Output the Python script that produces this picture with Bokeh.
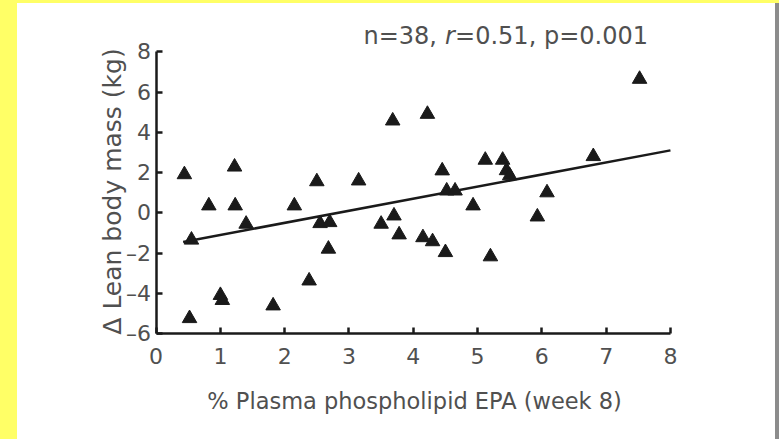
import math
from bokeh.plotting import figure
from bokeh.models import Label, Div, FixedTicker
from bokeh.layouts import row, column
from bokeh.embed import file_html
from bokeh.resources import INLINE

# Data
epa = [0.44, 0.55, 0.52, 0.82, 1.0, 1.03, 1.22, 1.23, 1.4, 1.82,
       2.15, 2.38, 2.5, 2.55, 2.7, 2.68, 3.15, 3.5, 3.68, 3.7,
       3.78, 4.22, 4.15, 4.3, 4.5, 4.45, 4.52, 4.65, 4.93, 5.12,
       5.39, 5.45, 5.5, 5.2, 6.08, 5.93, 6.8, 7.52]
lbm = [1.9, -1.35, -5.25, 0.35, -4.1, -4.35, 2.28, 0.35, -0.56, -4.62,
       0.35, -3.38, 1.55, -0.53, -0.48, -1.8, 1.59, -0.56, 4.57, -0.15,
       -1.09, 4.9, -1.23, -1.43, -1.97, 2.09, 1.09, 1.09, 0.35, 2.62,
       2.62, 2.1, 1.85, -2.18, 1.0, -0.2, 2.8, 6.64]
fit_x = [0.42, 8.0]
fit_y = [-1.45, 3.1]
x_ticks = [0, 1, 2, 3, 4, 5, 6, 7, 8]
y_ticks = [-6, -4, -2, 0, 2, 4, 6, 8]
y_tick_labels = ["\u20136", "\u20134", "\u20132", "0", "2", "4", "6", "8"]
x_title = "% Plasma phospholipid EPA (week 8)"
y_title = "\u0394 Lean body mass (kg)"
stat_n = "n=38,"
stat_r = "r"
stat_rest = "=0.51, p=0.001"

FONT = "DejaVu Sans"
GREY = "#505050"
INK = "#1a1a1a"
YELLOW = "#FFFF66"

p = figure(width=758, height=436, x_range=(-2.156, 9.634), y_range=(-11.267, 10.398),
           output_backend="svg", toolbar_location=None,
           min_border_left=0, min_border_right=0,
           min_border_top=0, min_border_bottom=0)
p.outline_line_color = None
p.xgrid.grid_line_color = None
p.ygrid.grid_line_color = None
p.background_fill_color = "white"
p.border_fill_color = "white"

for ax in (p.xaxis[0], p.yaxis[0]):
    ax.axis_line_color = INK
    ax.axis_line_width = 2.5
    ax.major_tick_line_color = INK
    ax.major_tick_line_width = 2.5
    ax.major_tick_in = 6
    ax.major_tick_out = 0
    ax.minor_tick_line_color = None
    ax.major_label_text_font = FONT
    ax.major_label_text_font_size = "22px"
    ax.major_label_text_color = GREY

p.xaxis.fixed_location = -6
p.yaxis.fixed_location = 0
p.xaxis.bounds = (0, 8)
p.yaxis.bounds = (-6, 8)
p.xaxis.ticker = FixedTicker(ticks=x_ticks)
p.yaxis.ticker = FixedTicker(ticks=y_ticks)
p.yaxis.major_label_overrides = {t: s for t, s in zip(y_ticks, y_tick_labels)}
p.xaxis.major_label_standoff = 14
p.yaxis.major_label_standoff = 5

p.line(fit_x, fit_y, line_color=INK, line_width=2.5)
p.scatter(epa, lbm, marker="triangle", size=14.5, fill_color=INK, line_color=INK)

p.add_layout(Label(x=4.02, y=-9.33, text=x_title, text_align="center", text_baseline="middle",
                   text_font=FONT, text_font_size="22.5px", text_color=GREY))
p.add_layout(Label(x=-0.677, y=1.056, text=y_title, angle=math.pi / 2,
                   text_align="center", text_baseline="middle",
                   text_font=FONT, text_font_size="25px", text_color=GREY))

tx, ty = 7.65, 8.807
p.add_layout(Label(x=tx, y=ty, text=stat_rest, text_align="right", text_baseline="middle",
                   text_font=FONT, text_font_size="24px", text_color=GREY))
p.add_layout(Label(x=tx, y=ty, x_offset=-193, text=stat_r, text_align="right", text_baseline="middle",
                   text_font=FONT, text_font_size="24px", text_font_style="italic", text_color=GREY))
p.add_layout(Label(x=tx, y=ty, x_offset=-211, text=stat_n, text_align="right", text_baseline="middle",
                   text_font=FONT, text_font_size="24px", text_color=GREY))

top_strip = Div(text="", width=779, height=3, margin=0,
                styles={"background-color": YELLOW, "width": "779px", "height": "3px"})
left_strip = Div(text="", width=17, height=436, margin=0,
                 styles={"background-color": YELLOW, "width": "17px", "height": "436px"})
right_strip = Div(text="", width=4, height=436, margin=0,
                  styles={"background-color": "#8c8c8c", "width": "4px", "height": "436px"})
layout = column(top_strip, row(left_strip, p, right_strip, spacing=0), spacing=0)

open("out.html", "w").write(file_html(layout, INLINE))
